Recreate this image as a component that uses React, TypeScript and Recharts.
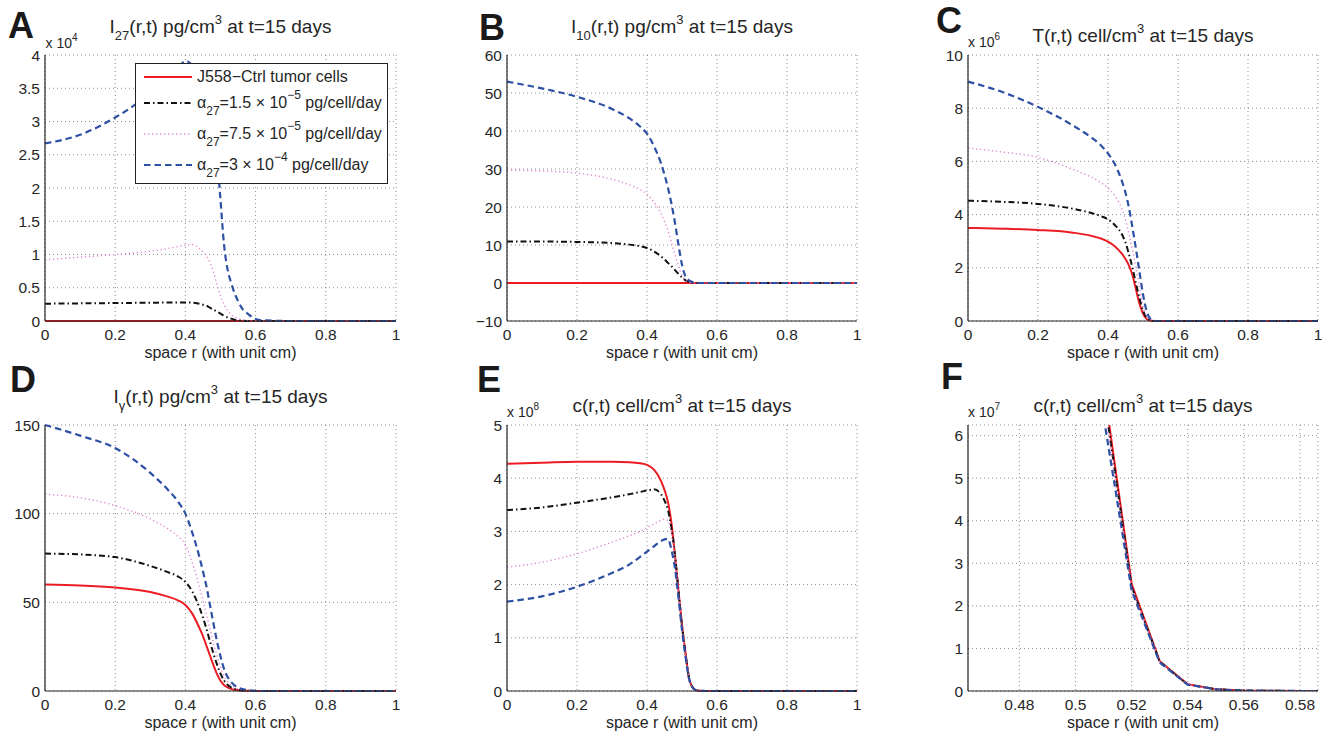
import React from "react";
import { LineChart, Line, XAxis, YAxis, CartesianGrid, Legend } from "recharts";

const FONT = '"Liberation Sans", Arial, Helvetica, sans-serif';
const INK = "#262626";

// radial positions (cm), shared by every panel
const r = [0, 0.1, 0.2, 0.3, 0.35, 0.38, 0.4, 0.42, 0.44, 0.45, 0.46, 0.47, 0.48, 0.49, 0.5, 0.51, 0.52, 0.53, 0.54, 0.55, 0.56, 0.58, 0.6, 0.62, 0.7, 0.8, 0.9, 1];

// A: I27, in units of 10^4 pg/cm^3
const aRed = [0, 0, 0, 0, 0, 0, 0, 0, 0, 0, 0, 0, 0, 0, 0, 0, 0, 0, 0, 0, 0, 0, 0, 0, 0, 0, 0, 0];
const aBlack = [0.26, 0.265, 0.27, 0.275, 0.278, 0.28, 0.28, 0.275, 0.26, 0.245, 0.23, 0.2, 0.17, 0.14, 0.11, 0.08, 0.055, 0.035, 0.02, 0.01, 0.005, 0, 0, 0, 0, 0, 0, 0];
const aPink = [0.92, 0.96, 1.0, 1.05, 1.09, 1.12, 1.14, 1.15, 1.09, 1.04, 0.98, 0.88, 0.74, 0.55, 0.37, 0.25, 0.16, 0.1, 0.06, 0.035, 0.02, 0.005, 0, 0, 0, 0, 0, 0];
const aBlue = [2.67, 2.8, 3.06, 3.42, 3.64, 3.8, 3.91, 3.84, 3.62, 3.42, 3.18, 2.92, 2.7, 2.45, 1.82, 1.15, 0.78, 0.58, 0.42, 0.3, 0.2, 0.1, 0.03, 0.01, 0, 0, 0, 0];

// B: I10, pg/cm^3
const bRed = [0, 0, 0, 0, 0, 0, 0, 0, 0, 0, 0, 0, 0, 0, 0, 0, 0, 0, 0, 0, 0, 0, 0, 0, 0, 0, 0, 0];
const bBlack = [10.9, 10.9, 10.8, 10.5, 10.1, 9.7, 9.2, 8.3, 7.0, 6.2, 5.3, 4.4, 3.4, 2.4, 1.5, 0.7, 0.25, 0.05, 0, 0, 0, 0, 0, 0, 0, 0, 0, 0];
const bPink = [29.7, 29.5, 28.9, 27.3, 25.8, 24.6, 23.4, 21.3, 18.3, 16.2, 13.8, 10.5, 7.4, 4.4, 2.0, 0.7, 0.2, 0.05, 0, 0, 0, 0, 0, 0, 0, 0, 0, 0];
const bBlue = [53, 51.2, 49, 45.8, 43.3, 41.2, 39.3, 36, 31.5, 28.5, 25, 20.8, 15.8, 10, 4.8, 1.7, 0.7, 0.25, 0.08, 0, 0, 0, 0, 0, 0, 0, 0, 0];

// C: T cells, in units of 10^6 cell/cm^3
const cRed = [3.5, 3.47, 3.42, 3.32, 3.21, 3.1, 2.98, 2.8, 2.52, 2.33, 2.08, 1.72, 1.18, 0.65, 0.28, 0.08, 0.02, 0, 0, 0, 0, 0, 0, 0, 0, 0, 0, 0];
const cBlack = [4.52, 4.48, 4.4, 4.22, 4.07, 3.94, 3.82, 3.6, 3.25, 2.95, 2.5, 2.0, 1.4, 0.85, 0.4, 0.13, 0.03, 0, 0, 0, 0, 0, 0, 0, 0, 0, 0, 0];
const cPink = [6.5, 6.35, 6.15, 5.7, 5.42, 5.2, 5.0, 4.7, 4.2, 3.8, 3.25, 2.65, 2.0, 1.25, 0.55, 0.18, 0.05, 0.01, 0, 0, 0, 0, 0, 0, 0, 0, 0, 0];
const cBlue = [9.0, 8.6, 8.05, 7.35, 6.92, 6.6, 6.3, 5.88, 5.25, 4.82, 4.25, 3.5, 2.7, 1.85, 1.0, 0.4, 0.1, 0.02, 0, 0, 0, 0, 0, 0, 0, 0, 0, 0];

// D: I gamma, pg/cm^3
const dRed = [60, 59.5, 58.3, 55.8, 53.2, 51, 48.5, 43.5, 35.5, 31, 25.5, 20, 14.5, 9.5, 5.8, 3.4, 2.0, 1.2, 0.7, 0.4, 0.25, 0.08, 0, 0, 0, 0, 0, 0];
const dBlack = [77.5, 77, 75.5, 70.5, 67, 64.5, 61.5, 56, 47, 41.5, 35, 28, 21, 15, 9.8, 6, 3.5, 2, 1.2, 0.7, 0.4, 0.1, 0, 0, 0, 0, 0, 0];
const dPink = [111, 109, 104.5, 97, 91.5, 87, 82.5, 72, 58.5, 51, 43, 35, 27, 20, 13.5, 8.5, 5.2, 3.2, 2, 1.2, 0.7, 0.2, 0.05, 0, 0, 0, 0, 0];
const dBlue = [150, 144, 137, 123, 113.5, 106.5, 100, 89, 75.5, 67.5, 59, 48.5, 38, 28, 19.5, 12.5, 8, 5.2, 3.2, 2, 1.2, 0.4, 0.1, 0, 0, 0, 0, 0];

// E / F: tumor cells c, in units of 10^8 cell/cm^3
const eRed = [4.27, 4.29, 4.31, 4.31, 4.3, 4.28, 4.25, 4.16, 3.95, 3.78, 3.55, 3.15, 2.55, 1.88, 1.25, 0.72, 0.252, 0.07, 0.016, 0.004, 0.001, 0, 0, 0, 0, 0, 0, 0];
const eBlack = [3.4, 3.45, 3.54, 3.64, 3.7, 3.74, 3.77, 3.79, 3.7, 3.58, 3.4, 3.05, 2.55, 1.88, 1.22, 0.7, 0.245, 0.069, 0.015, 0.004, 0.001, 0, 0, 0, 0, 0, 0, 0];
const ePink = [2.33, 2.42, 2.58, 2.8, 2.92, 3.0, 3.07, 3.14, 3.21, 3.23, 3.2, 2.95, 2.5, 1.85, 1.2, 0.68, 0.242, 0.068, 0.015, 0.004, 0.001, 0, 0, 0, 0, 0, 0, 0];
const eBlue = [1.68, 1.78, 1.96, 2.22, 2.38, 2.52, 2.62, 2.72, 2.82, 2.85, 2.86, 2.65, 2.3, 1.75, 1.15, 0.645, 0.236, 0.067, 0.015, 0.004, 0.001, 0, 0, 0, 0, 0, 0, 0];

const xTicks = [0, 0.2, 0.4, 0.6, 0.8, 1];
const fXTicks = [0.48, 0.5, 0.52, 0.54, 0.56, 0.58];
const aYTicks = [0, 0.5, 1, 1.5, 2, 2.5, 3, 3.5, 4];
const bYTicks = [-10, 0, 10, 20, 30, 40, 50, 60];
const cYTicks = [0, 2, 4, 6, 8, 10];
const dYTicks = [0, 50, 100, 150];
const eYTicks = [0, 1, 2, 3, 4, 5];
const fYTicks = [0, 0.1, 0.2, 0.3, 0.4, 0.5, 0.6]; // 10^8 units, labelled in 10^7

const STYLE: Record<string, { stroke: string; width: number; dash?: string }> = {
  red: { stroke: "#ec1c24", width: 2 },
  black: { stroke: "#111111", width: 2, dash: "6 3 1.5 3" },
  pink: { stroke: "#e38ad6", width: 1.4, dash: "1.3 2.7" },
  blue: { stroke: "#2d50a5", width: 2.2, dash: "6.5 4" },
};
const ORDER = ["red", "black", "pink", "blue"];

function rows(red: number[], black: number[], pink: number[], blue: number[]) {
  return r.map((x, i) => ({ r: x, red: red[i], black: black[i], pink: pink[i], blue: blue[i] }));
}

const aData = rows(aRed, aBlack, aPink, aBlue);
const bData = rows(bRed, bBlack, bPink, bBlue);
const cData = rows(cRed, cBlack, cPink, cBlue);
const dData = rows(dRed, dBlack, dPink, dBlue);
const eData = rows(eRed, eBlack, ePink, eBlue);

const Sub = ({ children, size = 13, shift = 7 }: any) => (
  <span style={{ fontSize: size, position: "relative", top: shift, lineHeight: 0 }}>{children}</span>
);
const Sup = ({ children, size = 13, shift = -9 }: any) => (
  <span style={{ fontSize: size, position: "relative", top: shift, lineHeight: 0 }}>{children}</span>
);

function LegendBox() {
  const items = [
    { k: "red", y: 13.3, label: <>J558−Ctrl tumor cells</> },
    { k: "black", y: 39, label: <>α<Sub size={12}>27</Sub>=1.5 × 10<Sup size={12}>−5</Sup> pg/cell/day</> },
    { k: "pink", y: 70.6, label: <>α<Sub size={12}>27</Sub>=7.5 × 10<Sup size={12}>−5</Sup> pg/cell/day</> },
    { k: "blue", y: 101.6, label: <>α<Sub size={12}>27</Sub>=3 × 10<Sup size={12}>−4</Sup> pg/cell/day</> },
  ];
  return (
    <div style={{ position: "relative", width: 253, height: 121, boxSizing: "border-box", border: "1.3px solid #222", background: "#fff", fontFamily: FONT, color: INK }}>
      {items.map((it) => {
        const s = STYLE[it.k];
        return (
          <div key={it.k} style={{ position: "absolute", left: 0, top: it.y - 10, height: 20, width: 250 }}>
            <svg width={48} height={20} style={{ position: "absolute", left: 8, top: 0 }}>
              <line x1={0} x2={48} y1={10} y2={10} stroke={s.stroke} strokeWidth={s.width} strokeDasharray={s.dash} />
            </svg>
            <span style={{ position: "absolute", left: 61, top: 0, fontSize: 16, lineHeight: "20px", whiteSpace: "nowrap" }}>{it.label}</span>
          </div>
        );
      })}
    </div>
  );
}

type PanelProps = {
  left: number;
  top: number;
  width: number;
  height: number;
  data: any[];
  xDomain: [number, number];
  xTicks: number[];
  yDomain: [number, number];
  yTicks: number[];
  yFormat?: (v: number) => string;
  curve: "monotone" | "linear";
  clip?: boolean;
  legend?: boolean;
};

function Panel(p: PanelProps) {
  const axis = { stroke: INK, strokeWidth: 1.2 };
  const ink = { stroke: INK, strokeWidth: 1 };
  return (
    <div style={{ position: "absolute", left: p.left - 45, top: p.top - 10 }}>
      <LineChart width={p.width + 55} height={p.height + 50} data={p.data} margin={{ top: 10, right: 10, left: 5, bottom: 0 }}>
        <CartesianGrid stroke="#707070" strokeWidth={0.8} strokeDasharray="1 3" />
        <XAxis
          dataKey="r"
          type="number"
          domain={p.xDomain}
          ticks={p.xTicks}
          allowDataOverflow={!!p.clip}
          height={40}
          axisLine={axis}
          tickLine={false}
          tickSize={4}
          tickMargin={4}
          tick={{ fill: INK, fontSize: 15.5 }}
          tickFormatter={(v: number) => String(v)}
          label={{ value: "space r (with unit cm)", position: "insideBottom", offset: 3, fill: INK, fontSize: 16 }}
        />
        <XAxis xAxisId="bi" dataKey="r" type="number" domain={p.xDomain} ticks={p.xTicks} allowDataOverflow height={0} mirror axisLine={false} tick={false} tickSize={4} tickLine={ink} />
        <XAxis xAxisId="top" orientation="top" dataKey="r" type="number" domain={p.xDomain} ticks={p.xTicks} allowDataOverflow height={0} mirror axisLine={axis} tick={false} tickSize={4} tickLine={ink} />
        <YAxis
          type="number"
          domain={p.yDomain}
          ticks={p.yTicks}
          allowDataOverflow={!!p.clip}
          width={40}
          axisLine={axis}
          tickLine={false}
          tickSize={3}
          tickMargin={2}
          tick={{ fill: INK, fontSize: 15.5 }}
          tickFormatter={p.yFormat || ((v: number) => String(v))}
        />
        <YAxis yAxisId="li" type="number" domain={p.yDomain} ticks={p.yTicks} allowDataOverflow width={0} mirror axisLine={false} tick={false} tickSize={4} tickLine={ink} />
        <YAxis yAxisId="right" orientation="right" type="number" domain={p.yDomain} ticks={p.yTicks} allowDataOverflow width={0} mirror axisLine={axis} tick={false} tickSize={4} tickLine={ink} />
        {ORDER.map((k) => (
          <Line
            key={k}
            dataKey={k}
            type={p.curve}
            stroke={STYLE[k].stroke}
            strokeWidth={STYLE[k].width}
            strokeDasharray={STYLE[k].dash}
            dot={false}
            activeDot={false}
            isAnimationActive={false}
          />
        ))}
        {p.legend && (
          <Legend
            layout="vertical"
            align="center"
            verticalAlign="middle"
            content={() => <LegendBox />}
            wrapperStyle={{ position: "absolute", left: 135, top: 17.7, width: 253, height: 121 }}
          />
        )}
      </LineChart>
    </div>
  );
}

function Title({ cx, base, children }: any) {
  return (
    <div style={{ position: "absolute", left: cx, top: base - 15.5, transform: "translateX(-50%)", fontSize: 19, lineHeight: "18px", whiteSpace: "nowrap" }}>
      {children}
    </div>
  );
}

function Letter({ x, base, children }: any) {
  return (
    <div style={{ position: "absolute", left: x, top: base - 30, fontSize: 36, fontWeight: 700, lineHeight: "36px", color: "#1a1a1a" }}>
      {children}
    </div>
  );
}

function Exp({ x, base, p }: any) {
  return (
    <div style={{ position: "absolute", left: x, top: base - 11.6, fontSize: 14, lineHeight: "14px", whiteSpace: "nowrap" }}>
      x 10<Sup size={10} shift={-7}>{p}</Sup>
    </div>
  );
}

const minus = (v: number) => (v < 0 ? "\u2212" + Math.abs(v) : String(v));

export default function App() {
  return (
    <div style={{ position: "absolute", left: 0, top: 0, width: 1328, height: 735, background: "#fff", fontFamily: FONT, color: INK, overflow: "hidden" }}>
      <Panel left={45} top={55} width={351} height={266} data={aData} xDomain={[0, 1]} xTicks={xTicks} yDomain={[0, 4]} yTicks={aYTicks} curve="monotone" legend />
      <Panel left={507} top={55} width={350} height={266} data={bData} xDomain={[0, 1]} xTicks={xTicks} yDomain={[-10, 60]} yTicks={bYTicks} yFormat={minus} curve="monotone" />
      <Panel left={968} top={55} width={350} height={266} data={cData} xDomain={[0, 1]} xTicks={xTicks} yDomain={[0, 10]} yTicks={cYTicks} curve="monotone" />
      <Panel left={45} top={425} width={351} height={266} data={dData} xDomain={[0, 1]} xTicks={xTicks} yDomain={[0, 150]} yTicks={dYTicks} curve="monotone" />
      <Panel left={507} top={425} width={350} height={266} data={eData} xDomain={[0, 1]} xTicks={xTicks} yDomain={[0, 5]} yTicks={eYTicks} curve="monotone" />
      <Panel
        left={968}
        top={425}
        width={350}
        height={266}
        data={eData}
        xDomain={[0.4617, 0.5864]}
        xTicks={fXTicks}
        yDomain={[0, 0.625]}
        yTicks={fYTicks}
        yFormat={(v: number) => String(Math.round(v * 10))}
        curve="linear"
        clip
      />

      <Letter x={8} base={38}>A</Letter>
      <Letter x={479} base={40}>B</Letter>
      <Letter x={936} base={33}>C</Letter>
      <Letter x={10} base={392}>D</Letter>
      <Letter x={477} base={392}>E</Letter>
      <Letter x={941} base={389}>F</Letter>

      <Title cx={220.5} base={33}>I<Sub>27</Sub>(r,t) pg/cm<Sup>3</Sup> at t=15 days</Title>
      <Title cx={682} base={33}>I<Sub>10</Sub>(r,t) pg/cm<Sup>3</Sup> at t=15 days</Title>
      <Title cx={1143} base={42}>T(r,t) cell/cm<Sup>3</Sup> at t=15 days</Title>
      <Title cx={220.5} base={403}>I<Sub>γ</Sub>(r,t) pg/cm<Sup>3</Sup> at t=15 days</Title>
      <Title cx={682} base={412}>c(r,t) cell/cm<Sup>3</Sup> at t=15 days</Title>
      <Title cx={1143} base={412}>c(r,t) cell/cm<Sup>3</Sup> at t=15 days</Title>

      <Exp x={45.5} base={48} p="4" />
      <Exp x={968} base={47} p="6" />
      <Exp x={507} base={417} p="8" />
      <Exp x={968} base={417} p="7" />
    </div>
  );
}
